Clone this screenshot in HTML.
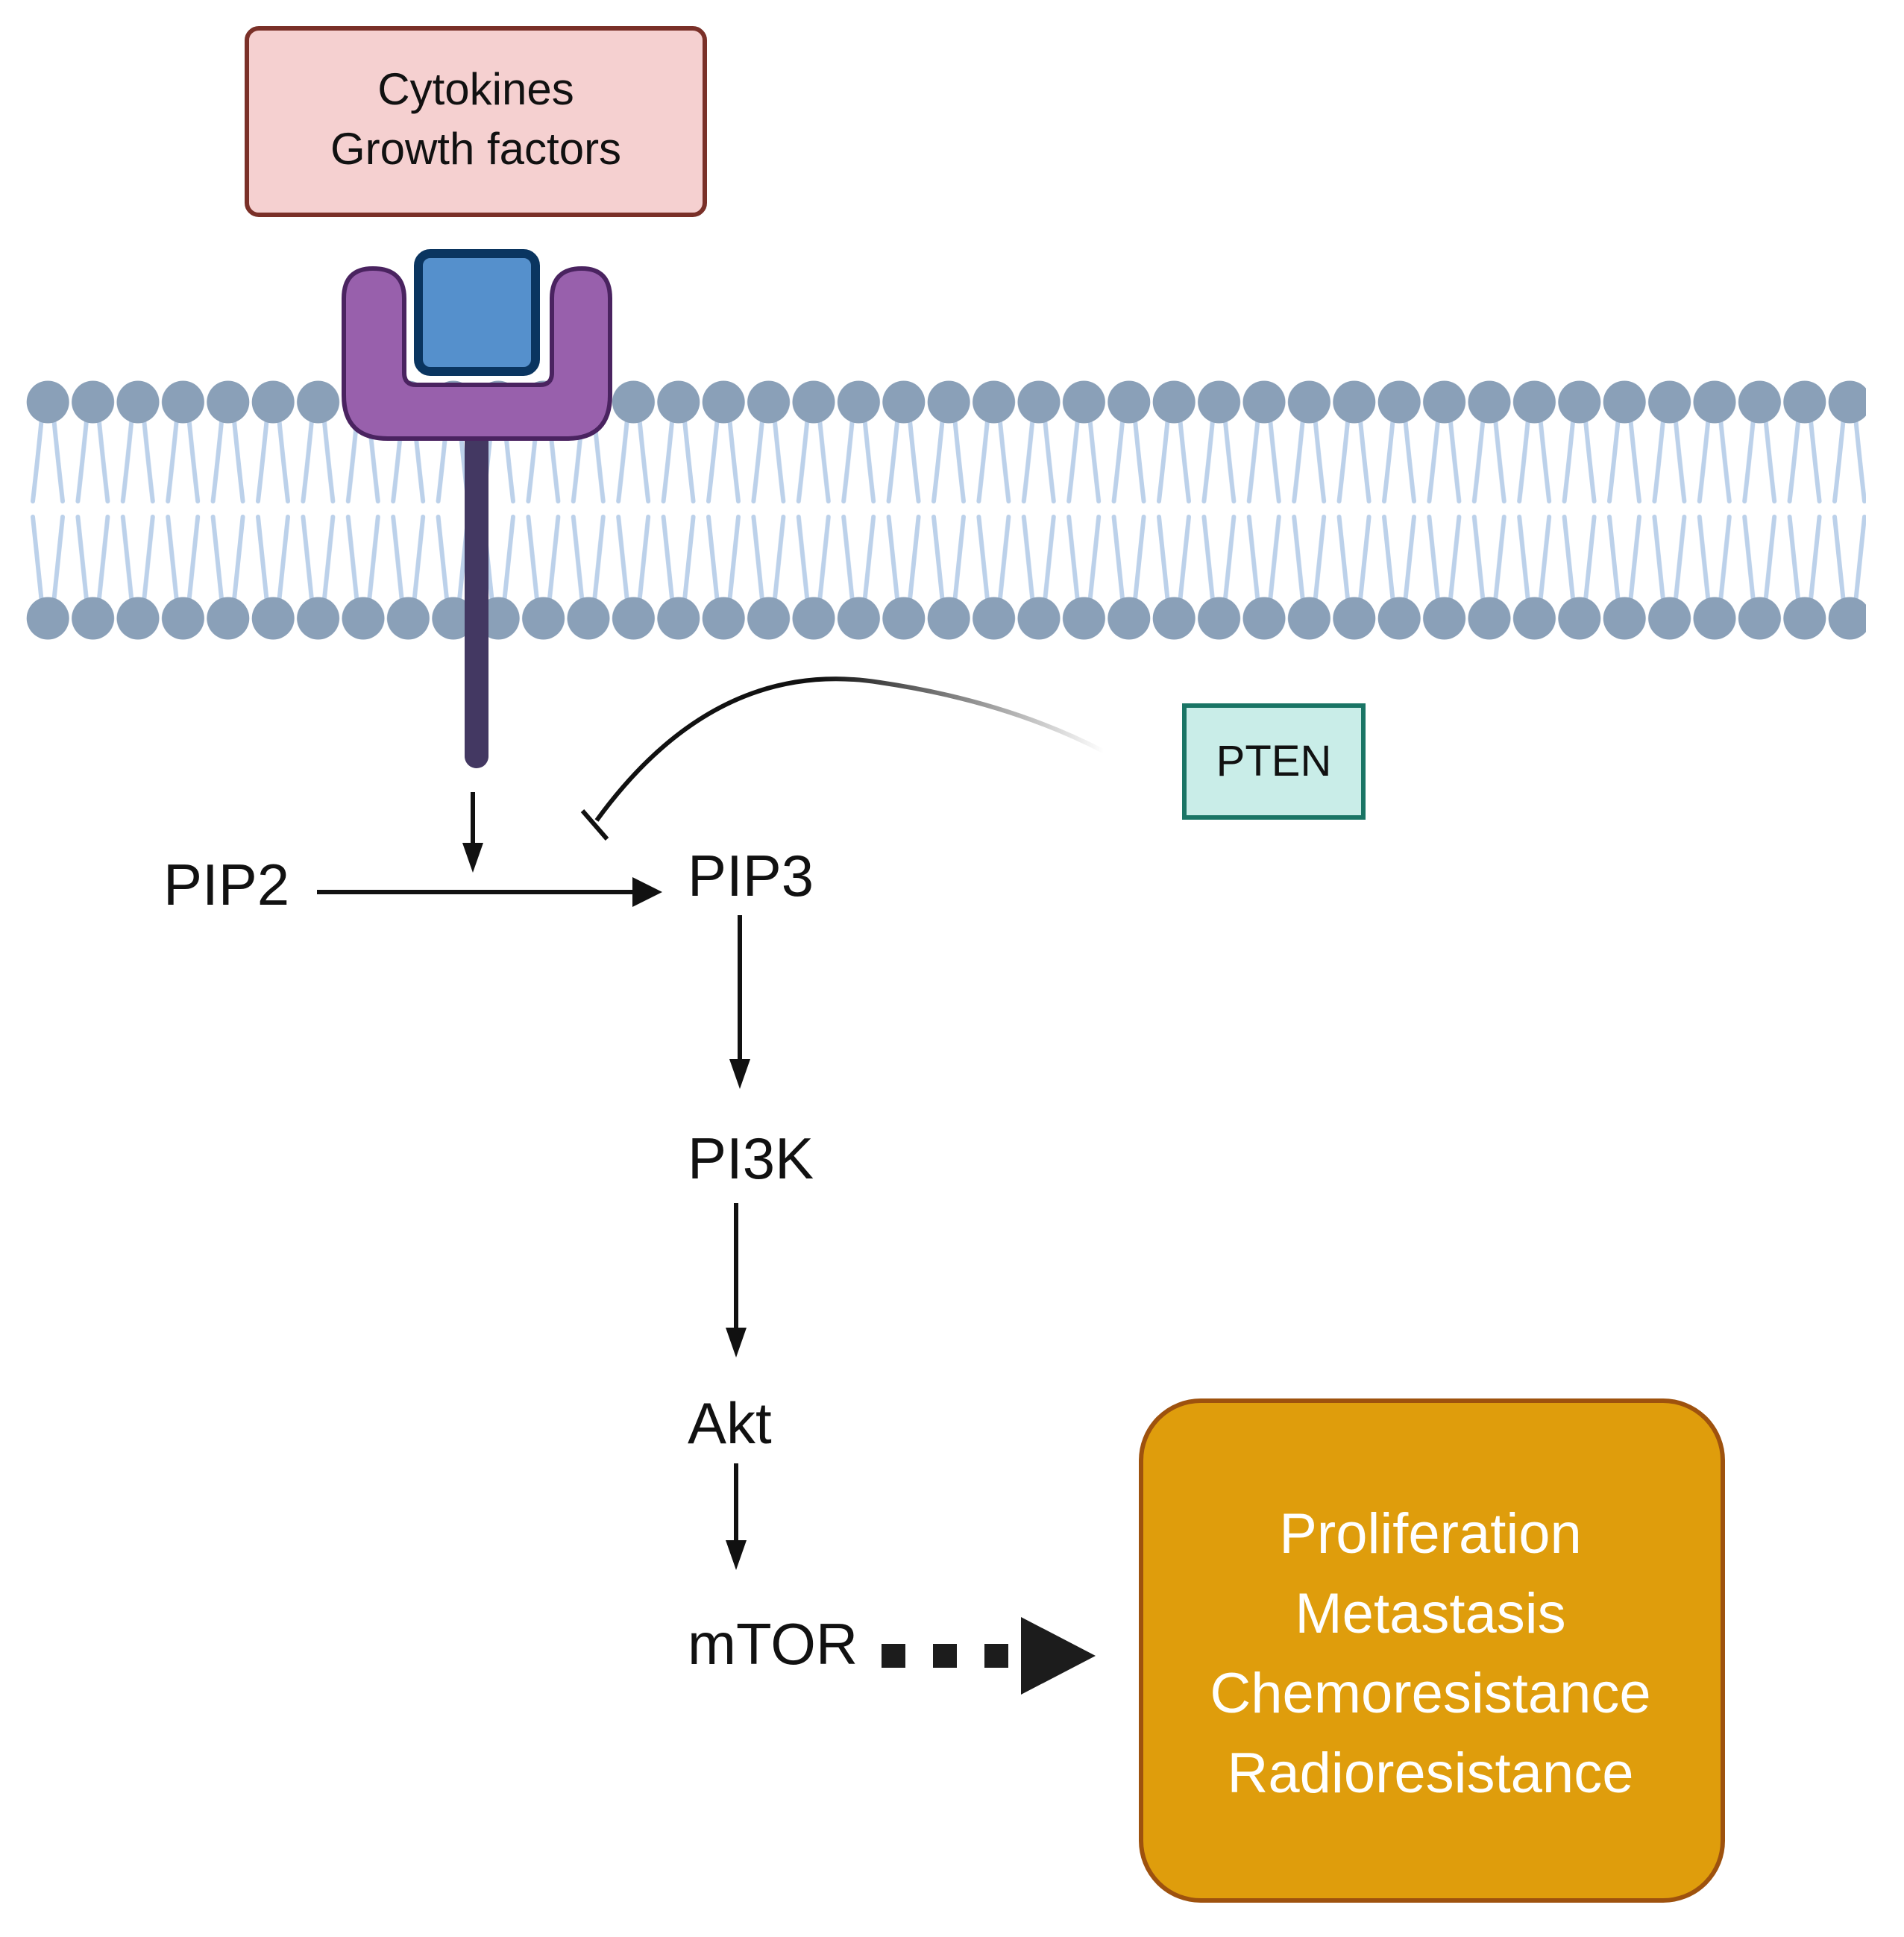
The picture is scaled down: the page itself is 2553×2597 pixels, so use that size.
<!DOCTYPE html>
<html><head><meta charset="utf-8"><style>
html,body{margin:0;padding:0;background:#fff;}
svg{display:block;}
text{font-family:"Liberation Sans",sans-serif;}
</style></head><body>
<svg width="2553" height="2597" viewBox="0 0 2553 2597" xmlns="http://www.w3.org/2000/svg">
<defs>
<linearGradient id="fade" gradientUnits="userSpaceOnUse" x1="1100" y1="0" x2="1480" y2="0">
<stop offset="0" stop-color="#111" stop-opacity="1"/>
<stop offset="1" stop-color="#111" stop-opacity="0"/>
</linearGradient>
<pattern id="tails" x="34" y="0" width="60.4" height="2597" patternUnits="userSpaceOnUse">
<path d="M22 560 Q16 620 10 672 M38 560 Q44 620 50 672 M10 693 Q16 750 22 808 M50 693 Q44 750 38 808" stroke="#bcd1ea" stroke-width="6" fill="none" stroke-linecap="round"/>
</pattern>
<pattern id="heads" x="34" y="0" width="60.4" height="2597" patternUnits="userSpaceOnUse">
<circle cx="30.2" cy="539" r="28.5" fill="#8aa0b8"/>
<circle cx="30.2" cy="829" r="28.5" fill="#8aa0b8"/>
</pattern>
</defs>
<rect width="2553" height="2597" fill="#fff"/>
<rect x="34" y="500" width="2468" height="370" fill="url(#tails)"/>
<rect x="34" y="500" width="2468" height="370" fill="url(#heads)"/>
<rect x="331" y="38" width="614" height="250" rx="16" fill="#f5d0d0" stroke="#7a3028" stroke-width="6"/>
<text x="638" y="140" font-size="60" text-anchor="middle" fill="#111">Cytokines</text>
<text x="638" y="220" font-size="60" text-anchor="middle" fill="#111">Growth factors</text>
<line x1="639" y1="560" x2="639" y2="1014" stroke="#433862" stroke-width="32" stroke-linecap="round"/>
<path d="M500 360 Q461 360 461 400 L461 530 Q461 588 520 588 L760 588 Q818 588 818 530 L818 400 Q818 360 780 360 Q740 360 740 400 L740 500 Q740 516 724 516 L558 516 Q542 516 542 500 L542 400 Q542 360 500 360 Z" fill="#9860ac" stroke="#4a2360" stroke-width="6"/>
<rect x="561" y="340" width="157" height="158" rx="16" fill="#5590cc" stroke="#0a3560" stroke-width="12"/>
<path d="M800 1100 Q960 880 1180 915 Q1350 940 1481 1008" fill="none" stroke="url(#fade)" stroke-width="6"/>
<line x1="781" y1="1087" x2="814" y2="1125" stroke="#111" stroke-width="6"/>
<rect x="1588" y="946" width="240" height="150" fill="#c9ede8" stroke="#1a7565" stroke-width="6"/>
<text x="1708" y="1040" font-size="58" text-anchor="middle" fill="#111">PTEN</text>
<line x1="634" y1="1062" x2="634" y2="1135" stroke="#111" stroke-width="6"/>
<polygon points="620,1130 648,1130 634,1170" fill="#111"/>
<text x="219" y="1213" font-size="78" fill="#111">PIP2</text>
<line x1="425" y1="1196" x2="855" y2="1196" stroke="#111" stroke-width="6"/>
<polygon points="848,1176 888,1196 848,1216" fill="#111"/>
<text x="922" y="1201" font-size="78" fill="#111">PIP3</text>
<line x1="992" y1="1227" x2="992" y2="1425" stroke="#111" stroke-width="6"/>
<polygon points="978,1420 1006,1420 992,1460" fill="#111"/>
<text x="922" y="1580" font-size="78" fill="#111">PI3K</text>
<line x1="987" y1="1613" x2="987" y2="1785" stroke="#111" stroke-width="6"/>
<polygon points="973,1780 1001,1780 987,1820" fill="#111"/>
<text x="922" y="1935" font-size="78" fill="#111">Akt</text>
<line x1="987" y1="1962" x2="987" y2="2070" stroke="#111" stroke-width="6"/>
<polygon points="973,2065 1001,2065 987,2105" fill="#111"/>
<text x="922" y="2231" font-size="78" fill="#111">mTOR</text>
<rect x="1182" y="2204" width="32" height="32" fill="#1c1c1c"/>
<rect x="1251" y="2204" width="32" height="32" fill="#1c1c1c"/>
<rect x="1320" y="2204" width="32" height="32" fill="#1c1c1c"/>
<polygon points="1369,2168 1469,2220 1369,2272" fill="#1c1c1c"/>
<rect x="1530" y="1878" width="780" height="670" rx="80" fill="#df9d0c" stroke="#9e520e" stroke-width="6"/>
<text x="1918" y="2082" font-size="76" text-anchor="middle" fill="#fff">Proliferation</text>
<text x="1918" y="2189" font-size="76" text-anchor="middle" fill="#fff">Metastasis</text>
<text x="1918" y="2296" font-size="76" text-anchor="middle" fill="#fff">Chemoresistance</text>
<text x="1918" y="2403" font-size="76" text-anchor="middle" fill="#fff">Radioresistance</text>
</svg>
</body></html>
